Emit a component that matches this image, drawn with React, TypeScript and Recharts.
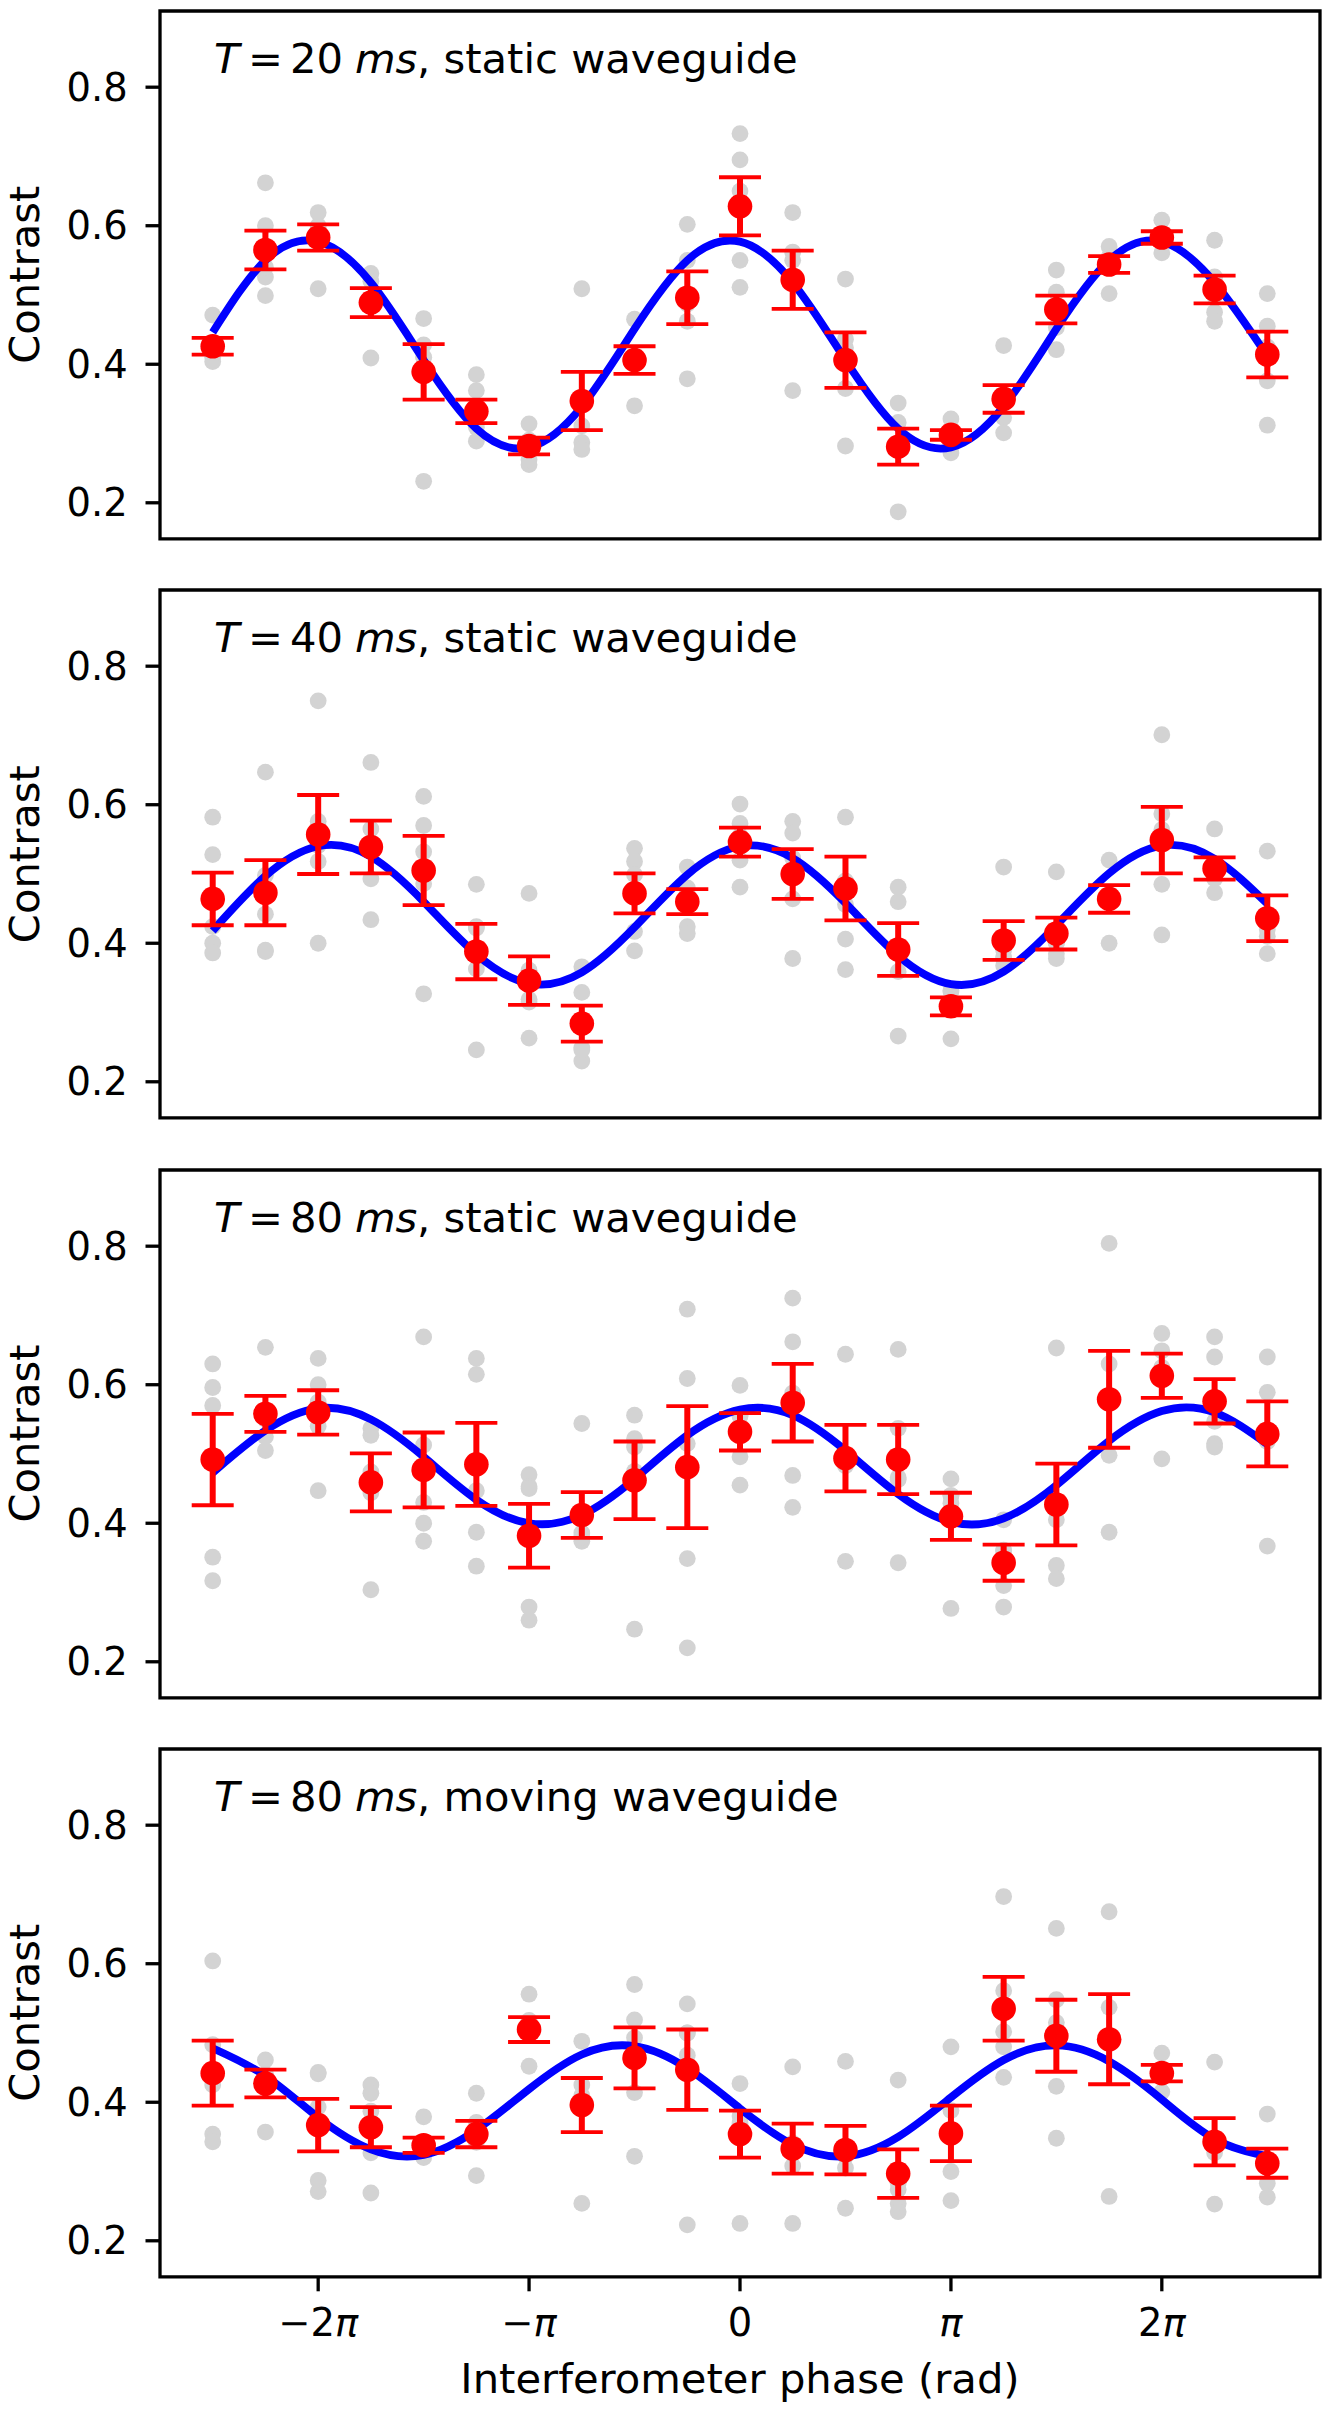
import React from 'react';
import { ComposedChart, Line, Scatter, XAxis, YAxis, CartesianGrid, ErrorBar, ReferenceArea } from 'recharts';

// phase steps of pi/4 from -5pi/2 to 5pi/2
const PHASES = [
  -7.854, -7.069, -6.283, -5.498, -4.712, -3.927, -3.142, -2.356, -1.571, -0.785, 0,
  0.785, 1.571, 2.356, 3.142, 3.927, 4.712, 5.498, 6.283, 7.069, 7.854,
];
const X_TICKS = [-6.283, -3.142, 0, 3.142, 6.283];
const X_TICK_LABELS = ['−2π', '−π', '0', 'π', '2π'];
const Y_TICKS = [0.2, 0.4, 0.6, 0.8];
const X_DOMAIN = [-8.639, 8.639];
const Y_DOMAIN = [0.148, 0.91];

const PANEL_T = ['20', '40', '80', '80'];
const PANEL_MODE = ['static', 'static', 'static', 'moving'];

// T = 20 ms, static
const MEAN_20 = [0.426, 0.565, 0.583, 0.489, 0.389, 0.332, 0.282, 0.347, 0.406, 0.496, 0.628, 0.522, 0.406, 0.281, 0.298, 0.350, 0.479, 0.544, 0.583, 0.508, 0.414];
const ERR_20 = [0.012, 0.028, 0.019, 0.021, 0.040, 0.017, 0.012, 0.042, 0.020, 0.038, 0.042, 0.042, 0.040, 0.026, 0.007, 0.020, 0.020, 0.012, 0.009, 0.020, 0.033];
const FIT_20 = [0.446, 0.550, 0.577, 0.518, 0.406, 0.307, 0.280, 0.339, 0.451, 0.550, 0.577, 0.518, 0.406, 0.307, 0.280, 0.339, 0.451, 0.550, 0.577, 0.518, 0.412];
const SHOTS_20 = [
  [0.471, 0.43, 0.41, 0.404, 0.415], [0.662, 0.6, 0.526, 0.499, 0.54], [0.619, 0.509, 0.6, 0.59, 0.595],
  [0.531, 0.409, 0.52, 0.49, 0.495], [0.466, 0.428, 0.231, 0.41, 0.41], [0.385, 0.362, 0.309, 0.289, 0.315],
  [0.314, 0.255, 0.262, 0.29, 0.29], [0.509, 0.311, 0.287, 0.277, 0.351], [0.465, 0.34, 0.41, 0.41, 0.405],
  [0.602, 0.55, 0.462, 0.379, 0.487], [0.733, 0.695, 0.65, 0.55, 0.511], [0.619, 0.562, 0.55, 0.362, 0.517],
  [0.523, 0.436, 0.365, 0.282, 0.424], [0.344, 0.316, 0.187, 0.28, 0.278], [0.321, 0.272, 0.3, 0.3, 0.297],
  [0.427, 0.323, 0.301, 0.35, 0.349], [0.536, 0.504, 0.453, 0.421, 0.481], [0.57, 0.502, 0.55, 0.555, 0.543],
  [0.608, 0.561, 0.583, 0.58, 0.583], [0.579, 0.475, 0.462, 0.526, 0.498], [0.502, 0.455, 0.376, 0.312, 0.425],
];

// T = 40 ms, static
const MEAN_40 = [0.464, 0.473, 0.557, 0.539, 0.505, 0.388, 0.346, 0.284, 0.472, 0.460, 0.546, 0.500, 0.479, 0.391, 0.309, 0.404, 0.414, 0.464, 0.549, 0.508, 0.436];
const ERR_40 = [0.038, 0.047, 0.057, 0.038, 0.050, 0.040, 0.035, 0.026, 0.029, 0.018, 0.021, 0.036, 0.046, 0.038, 0.013, 0.028, 0.023, 0.020, 0.048, 0.016, 0.033];
const FIT_40 = [0.418, 0.497, 0.540, 0.525, 0.460, 0.384, 0.342, 0.358, 0.423, 0.499, 0.540, 0.523, 0.458, 0.382, 0.341, 0.359, 0.426, 0.501, 0.541, 0.522, 0.457];
const SHOTS_40 = [
  [0.582, 0.528, 0.424, 0.4, 0.386], [0.647, 0.498, 0.442, 0.39, 0.388], [0.75, 0.576, 0.518, 0.4, 0.541],
  [0.661, 0.565, 0.493, 0.434, 0.542], [0.612, 0.57, 0.532, 0.486, 0.327], [0.485, 0.424, 0.363, 0.246, 0.422],
  [0.472, 0.319, 0.263, 0.361, 0.315], [0.366, 0.329, 0.249, 0.23, 0.246], [0.537, 0.518, 0.417, 0.389, 0.499],
  [0.51, 0.424, 0.414, 0.48, 0.472], [0.601, 0.573, 0.52, 0.481, 0.555], [0.576, 0.559, 0.464, 0.378, 0.523],
  [0.582, 0.456, 0.406, 0.362, 0.49], [0.481, 0.46, 0.359, 0.266, 0.39], [0.332, 0.262, 0.31, 0.31, 0.33],
  [0.51, 0.378, 0.368, 0.38, 0.39], [0.503, 0.385, 0.378, 0.4, 0.4], [0.52, 0.4, 0.47, 0.46, 0.47],
  [0.701, 0.587, 0.564, 0.485, 0.412], [0.565, 0.493, 0.473, 0.5, 0.51], [0.533, 0.41, 0.385, 0.42, 0.43],
];

// T = 80 ms, static
const MEAN_80S = [0.492, 0.558, 0.560, 0.459, 0.477, 0.485, 0.382, 0.412, 0.462, 0.481, 0.532, 0.574, 0.494, 0.492, 0.410, 0.343, 0.427, 0.579, 0.613, 0.576, 0.529];
const ERR_80S = [0.066, 0.026, 0.032, 0.042, 0.054, 0.060, 0.046, 0.033, 0.056, 0.088, 0.027, 0.056, 0.048, 0.050, 0.034, 0.026, 0.059, 0.070, 0.032, 0.032, 0.047];
const FIT_80S = [0.473, 0.534, 0.566, 0.550, 0.496, 0.434, 0.400, 0.412, 0.464, 0.527, 0.564, 0.556, 0.505, 0.442, 0.402, 0.407, 0.455, 0.519, 0.562, 0.560, 0.514];
const SHOTS_80S = [
  [0.63, 0.596, 0.57, 0.351, 0.317], [0.654, 0.525, 0.505, 0.56, 0.55], [0.638, 0.6, 0.54, 0.447, 0.575],
  [0.537, 0.527, 0.474, 0.444, 0.304], [0.669, 0.513, 0.43, 0.4, 0.374], [0.638, 0.615, 0.447, 0.387, 0.338],
  [0.47, 0.453, 0.279, 0.26, 0.45], [0.544, 0.386, 0.374, 0.38, 0.38], [0.556, 0.522, 0.51, 0.247, 0.475],
  [0.709, 0.609, 0.515, 0.349, 0.22], [0.599, 0.496, 0.455, 0.555, 0.555], [0.725, 0.662, 0.588, 0.469, 0.423],
  [0.644, 0.483, 0.345, 0.5, 0.498], [0.651, 0.537, 0.466, 0.343, 0.463], [0.464, 0.44, 0.277, 0.44, 0.429],
  [0.405, 0.31, 0.279, 0.36, 0.361], [0.653, 0.405, 0.339, 0.32, 0.418], [0.804, 0.63, 0.498, 0.387, 0.576],
  [0.674, 0.649, 0.493, 0.625, 0.624], [0.669, 0.64, 0.547, 0.515, 0.51], [0.64, 0.589, 0.518, 0.367, 0.531],
];

// T = 80 ms, moving
const MEAN_80M = [0.442, 0.427, 0.367, 0.364, 0.338, 0.354, 0.505, 0.396, 0.464, 0.447, 0.354, 0.333, 0.331, 0.297, 0.355, 0.535, 0.496, 0.491, 0.442, 0.343, 0.312];
const ERR_80M = [0.047, 0.020, 0.038, 0.029, 0.011, 0.019, 0.018, 0.039, 0.044, 0.058, 0.034, 0.036, 0.035, 0.035, 0.040, 0.046, 0.052, 0.065, 0.012, 0.034, 0.021];
const FIT_80M = [0.478, 0.438, 0.378, 0.332, 0.324, 0.360, 0.419, 0.469, 0.481, 0.449, 0.391, 0.339, 0.322, 0.350, 0.407, 0.461, 0.482, 0.459, 0.404, 0.347, 0.322];
const SHOTS_80M = [
  [0.604, 0.483, 0.425, 0.354, 0.343], [0.461, 0.357, 0.44, 0.44, 0.437], [0.443, 0.393, 0.287, 0.271, 0.441],
  [0.425, 0.413, 0.387, 0.327, 0.269], [0.379, 0.32, 0.335, 0.33, 0.326], [0.413, 0.371, 0.294, 0.35, 0.342],
  [0.556, 0.518, 0.452, 0.5, 0.5], [0.488, 0.425, 0.41, 0.254, 0.403], [0.57, 0.519, 0.493, 0.414, 0.322],
  [0.542, 0.468, 0.223, 0.5, 0.5], [0.427, 0.38, 0.225, 0.37, 0.368], [0.451, 0.308, 0.225, 0.34, 0.341],
  [0.459, 0.305, 0.247, 0.322, 0.322], [0.432, 0.274, 0.254, 0.242, 0.283], [0.48, 0.388, 0.3, 0.258, 0.349],
  [0.697, 0.561, 0.502, 0.48, 0.436], [0.651, 0.548, 0.515, 0.423, 0.348], [0.675, 0.537, 0.264, 0.49, 0.489],
  [0.471, 0.415, 0.44, 0.445, 0.44], [0.458, 0.327, 0.253, 0.34, 0.337], [0.383, 0.283, 0.263, 0.316, 0.315],
];

const PANELS = [
  { mean: MEAN_20, err: ERR_20, fit: FIT_20, shots: SHOTS_20 },
  { mean: MEAN_40, err: ERR_40, fit: FIT_40, shots: SHOTS_40 },
  { mean: MEAN_80S, err: ERR_80S, fit: FIT_80S, shots: SHOTS_80S },
  { mean: MEAN_80M, err: ERR_80M, fit: FIT_80M, shots: SHOTS_80M },
];

const FONT = 'DejaVu Sans';
const W = 1334;
const PLOT_LEFT = 160;
const PLOT_RIGHT = 1320;
const TOP0 = 10.9;
const STEP = 579.33;
const PLOT_H = 527.8;
const PAD = 10;

const PhaseTick = (props: any) => {
  const { x, y, payload } = props;
  const i = X_TICKS.findIndex(t => Math.abs(t - payload.value) < 1e-6);
  const label = X_TICK_LABELS[i] ?? '';
  const hasPi = label.endsWith('π');
  const head = hasPi ? label.slice(0, -1) : label;
  return (
    <text x={x} y={y} dy="0.71em" textAnchor="middle" fontFamily={FONT} fontSize={38.5} fill="#000">
      {head}
      {hasPi && <tspan fontStyle="italic">π</tspan>}
    </text>
  );
};

const grayDot = (p: any) => <circle cx={p.cx} cy={p.cy} r={8.4} fill="#d3d3d3" />;
const redDot = (p: any) => <circle cx={p.cx} cy={p.cy} r={12.3} fill="#ff0000" />;

function Panel({ index }: { index: number }) {
  const p = PANELS[index];
  const last = index === PANELS.length - 1;
  const xh = last ? 70 : 20;
  const h = PAD + PLOT_H + xh;
  const top = TOP0 + index * STEP - PAD;
  const margin = { top: PAD, right: W - PLOT_RIGHT, bottom: 0, left: 0 };

  const fitRows = PHASES.map((x, i) => ({ x, y: p.fit[i] }));
  const meanRows = PHASES.map((x, i) => ({ x, y: p.mean[i], err: p.err[i] }));
  const shotRows = PHASES.flatMap((x, i) => p.shots[i].map(y => ({ x, y })));

  const xAxis = (show: boolean) => (
    <XAxis
      type="number"
      dataKey="x"
      domain={X_DOMAIN}
      ticks={X_TICKS}
      allowDataOverflow
      height={xh}
      axisLine={false}
      tickLine={show ? { stroke: '#000', strokeWidth: 3.3 } : false}
      tickSize={14.5}
      tickMargin={17}
      tick={show && last ? <PhaseTick /> : false}
      interval={0}
    />
  );
  const yAxis = (show: boolean) => (
    <YAxis
      type="number"
      dataKey="y"
      domain={Y_DOMAIN}
      ticks={Y_TICKS}
      allowDataOverflow
      width={PLOT_LEFT}
      axisLine={false}
      tickLine={show ? { stroke: '#000', strokeWidth: 3.3 } : false}
      tickSize={14.5}
      tickMargin={17.8}
      tick={show ? { fontSize: 38.5, fill: '#000', fontFamily: FONT } : false}
      tickFormatter={(v: number) => v.toFixed(1)}
      interval={0}
    />
  );

  return (
    <div style={{ position: 'absolute', left: 0, top, width: W, height: h }}>
      <div style={{ position: 'absolute', left: 0, top: 0 }}>
        <ComposedChart width={W} height={h} margin={margin}>
          <CartesianGrid stroke="#d0d0d0" strokeWidth={1.8} />
          {xAxis(false)}
          {yAxis(false)}
          <Scatter data={shotRows} shape={grayDot} isAnimationActive={false} />
        </ComposedChart>
      </div>
      <div style={{ position: 'absolute', left: 0, top: 0 }}>
        <ComposedChart width={W} height={h} margin={margin}>
          {xAxis(true)}
          {yAxis(true)}
          <Line
            data={fitRows}
            dataKey="y"
            type="natural"
            stroke="#0000ff"
            strokeWidth={7.8}
            dot={false}
            activeDot={false}
            isAnimationActive={false}
          />
          <Scatter data={meanRows} shape={redDot} isAnimationActive={false}>
            <ErrorBar dataKey="err" direction="y" width={0} stroke="#ff0000" strokeWidth={6} />
            <ErrorBar dataKey="err" direction="y" width={21} stroke="#ff0000" strokeWidth={3.8} />
          </Scatter>
          <ReferenceArea
            x1={X_DOMAIN[0]}
            x2={X_DOMAIN[1]}
            y1={Y_DOMAIN[0]}
            y2={Y_DOMAIN[1]}
            fill="none"
            fillOpacity={0}
            stroke="#000"
            strokeWidth={3.3}
            ifOverflow="visible"
          />
        </ComposedChart>
      </div>
    </div>
  );
}

export default function App() {
  return (
    <div style={{ position: 'absolute', left: 0, top: 0, width: W, height: 2412, background: '#fff', fontFamily: FONT }}>
      {PANELS.map((_, i) => (
        <Panel key={i} index={i} />
      ))}
      <svg width={W} height={2412} style={{ position: 'absolute', left: 0, top: 0, pointerEvents: 'none' }}>
        {PANELS.map((_, i) => {
          const plotTop = TOP0 + i * STEP;
          const base = plotTop + 62.2;
          const mid = plotTop + PLOT_H / 2;
          return (
            <g key={i} fontFamily={FONT} fill="#000">
              <text y={base} fontSize={41.7}>
                <tspan x={214} fontStyle="italic">T</tspan>
                <tspan x={248}>=</tspan>
                <tspan x={290}>{PANEL_T[i]}</tspan>
                <tspan x={355} fontStyle="italic">ms</tspan>
                <tspan x={417}>{`, ${PANEL_MODE[i]} waveguide`}</tspan>
              </text>
              <text
                x={39.3}
                y={mid}
                fontSize={41.7}
                textAnchor="middle"
                transform={`rotate(-90, 39.3, ${mid})`}
              >
                Contrast
              </text>
            </g>
          );
        })}
        <text x={(PLOT_LEFT + PLOT_RIGHT) / 2} y={2393} fontSize={41.7} textAnchor="middle" fontFamily={FONT} fill="#000">
          Interferometer phase (rad)
        </text>
      </svg>
    </div>
  );
}
